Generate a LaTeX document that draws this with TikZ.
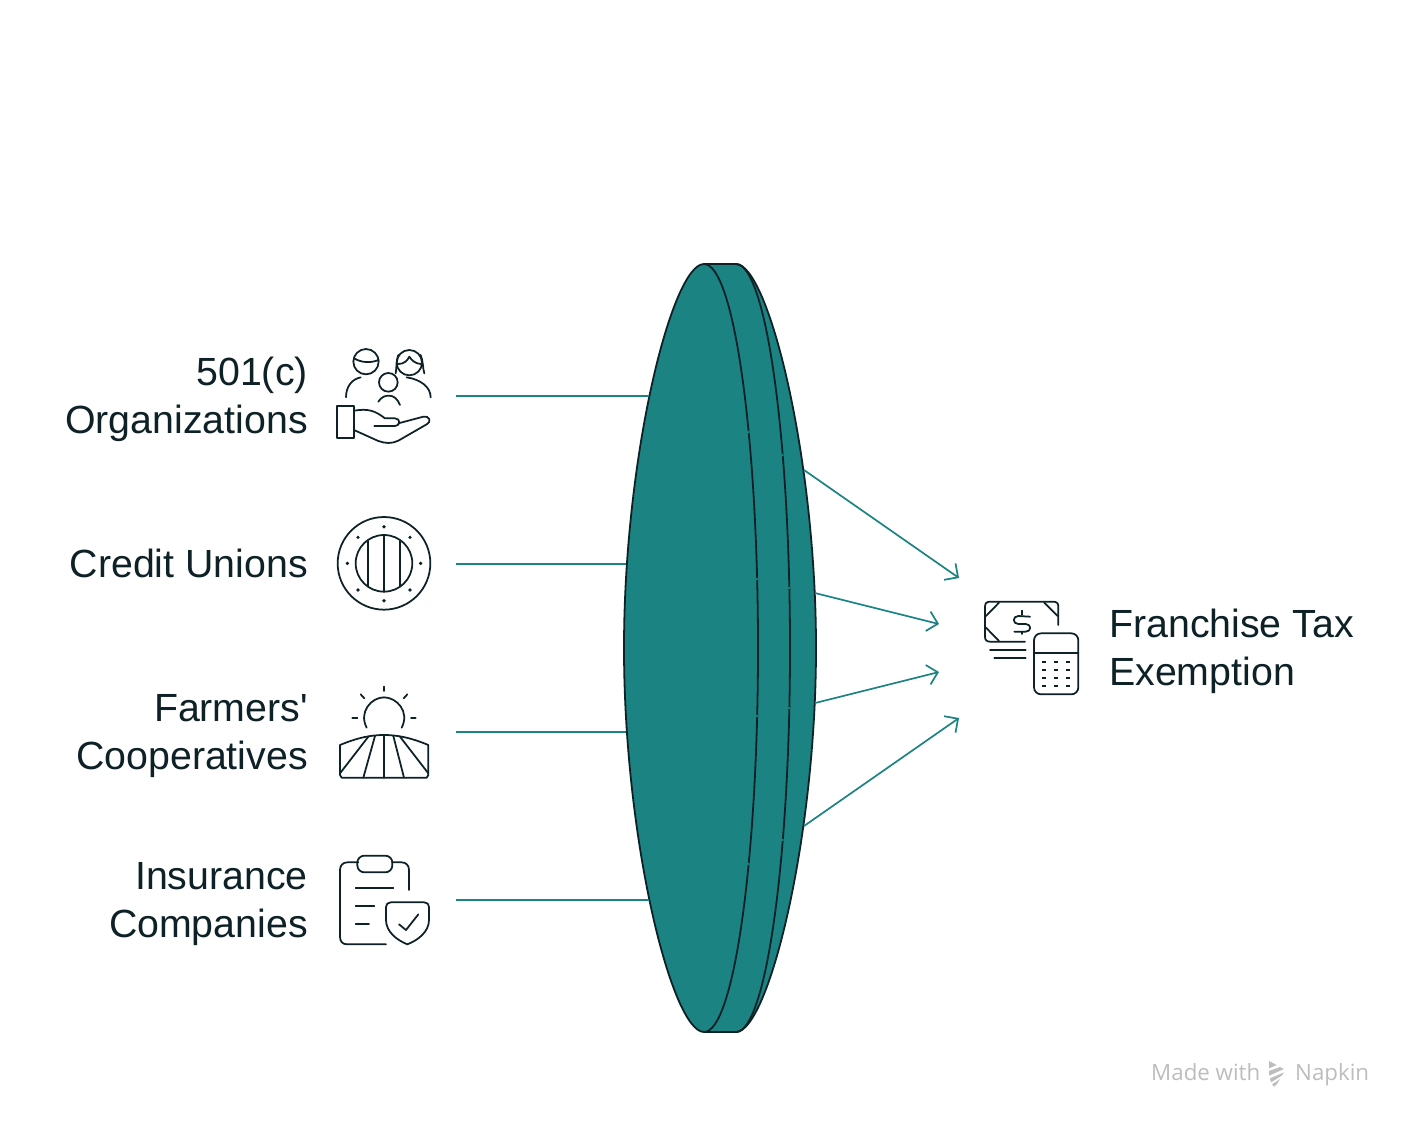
\documentclass[tikz,border=0pt]{standalone}
\usepackage{fontspec}
\setmainfont{Liberation Sans}
\newfontfamily\labelfont{Liberation Sans}
\newfontfamily\wmfont{Open Sans}
\usetikzlibrary{arrows.meta}
\definecolor{tealfill}{HTML}{1C8383}
\definecolor{ink}{HTML}{0D2126}
\definecolor{wmgrey}{HTML}{BDBDBD}
\tikzset{
  label/.style={font=\labelfont\fontsize{39.3}{48}\selectfont,text=ink,inner sep=0pt,align=right,anchor=east},
  iconslot/.style={minimum width=144pt,minimum height=92pt,inner sep=0pt},
  link/.style={draw=tealfill,line width=1.7pt},
  arrowlink/.style={link,-{Straight Barb[length=10pt,width=20pt,line width=1.7pt]}},
  lens/.style={draw=ink,line width=1.8pt,fill=tealfill},
  edge/.style={draw=ink,line width=1.8pt},
  ic/.style={draw=ink,line width=1.75pt,line cap=round,line join=round},
  crop/.style={shift={#1},x=0.33333pt,y=-0.33333pt},
  wm/.style={font=\wmfont\fontsize{22.3}{26}\selectfont,text=wmgrey,inner sep=0pt,anchor=base west},
}
\begin{document}
\begin{tikzpicture}[x=1pt,y=-1pt]
\useasboundingbox (0,0) rectangle (1416,1128);
\fill[white] (0,0) rectangle (1416,1128);
% lens
\path[lens] (704,264) -- (736,264)
  .. controls (768,264) and (816,456) .. (816,648)
  .. controls (816,840) and (768,1032) .. (736,1032)
  -- (704,1032)
  .. controls (672,1032) and (624,840) .. (624,648)
  .. controls (624,456) and (672,264) .. (704,264) -- cycle;
\path[edge] (704,264) .. controls (733.8,264) and (758,435.9) .. (758,648)
  .. controls (758,860.1) and (733.8,1032) .. (704,1032);
\path[edge] (736,264) .. controls (765.8,264) and (790,435.9) .. (790,648)
  .. controls (790,860.1) and (765.8,1032) .. (736,1032);
% small seams
\foreach \p in {(748.5,432),(757,579),(757,716),(748.5,864),(782.5,455),(789,588),(789,708),(782.5,840)}
  \fill[tealfill] \p circle (1.3);
% coordinates
\coordinate (lensA) at (649,396);
\coordinate (lensB) at (626,564);
\coordinate (lensC) at (626,732);
\coordinate (lensD) at (649,900);
\coordinate (outA) at (804,470);
\coordinate (outB) at (815,593);
\coordinate (outC) at (815,703);
\coordinate (outD) at (804,826);
\coordinate (tipA) at (959,578);
\coordinate (tipB) at (939,624);
\coordinate (tipC) at (939,672);
\coordinate (tipD) at (959,718);
\node[iconslot] (slotA) at (384,396) {};
\node[iconslot] (slotB) at (384,564) {};
\node[iconslot] (slotC) at (384,732) {};
\node[iconslot] (slotD) at (384,900) {};
\draw[link] (slotA.east) -- (lensA);
\draw[link] (slotB.east) -- (lensB);
\draw[link] (slotC.east) -- (lensC);
\draw[link] (slotD.east) -- (lensD);
\draw[arrowlink] (outA) -- (tipA);
\draw[arrowlink] (outB) -- (tipB);
\draw[arrowlink] (outC) -- (tipC);
\draw[arrowlink] (outD) -- (tipD);
% labels
\node[label] (labA) at (308,399) {501(c)\\Organizations};
\node[label] (labB) at (308,563) {Credit Unions};
\node[label] (labC) at (308,736) {Farmers'\\Cooperatives};
\node[label] (labD) at (308,904) {Insurance\\Companies};
\node[label,align=left,anchor=west] (labE) at (1109,651) {Franchise Tax\\Exemption};
% icon 1
\begin{scope}[crop={(330,340)}]
\draw[ic] (108,65) circle (38);
\draw[ic] (72,55) .. controls (95,68) and (120,70) .. (146,60);
\draw[ic] (238,68) circle (38);
\draw[ic] (205,72) .. controls (222,72) and (232,62) .. (238,50) .. controls (245,62) and (258,72) .. (274,72);
\draw[ic] (205,45) .. controls (198,65) and (200,85) .. (197,100);
\draw[ic] (272,45) .. controls (280,65) and (278,85) .. (283,100);
\draw[ic] (48,172) .. controls (48,140) and (65,118) .. (92,112);
\draw[ic] (302,172) .. controls (302,140) and (270,118) .. (230,112);
\draw[ic] (175,127) circle (28);
\draw[ic] (145,185) .. controls (155,170) and (165,167) .. (178,167) .. controls (192,167) and (203,178) .. (210,195);
\draw[ic] (22,197) rectangle (72,293);
\draw[ic] (72,212) .. controls (115,205) and (135,212) .. (165,235) -- (195,235) .. controls (212,235) and (212,258) .. (195,258) -- (133,258);
\draw[ic] (205,250) -- (280,230) .. controls (298,226) and (306,245) .. (290,253) -- (205,302) .. controls (185,312) and (165,310) .. (145,303) -- (72,270);
\end{scope}
% icon 2
\begin{scope}[crop={(330,510)}]
\draw[ic] (162,160) circle (139);
\draw[ic] (162,160) circle (85);
\draw[ic] (162,77) -- (162,245);
\draw[ic] (114,92) -- (114,228);
\draw[ic] (211,92) -- (211,228);
\foreach \p in {(162,50),(272,160),(162,272),(52,160),(84,82),(240,82),(84,240),(240,240)}
  \fill[ink] \p circle (5.5);
\end{scope}
% icon 3
\begin{scope}[crop={(330,680)}]
\draw[ic] (110,143) .. controls (85,95) and (125,52) .. (162,52) .. controls (200,52) and (240,95) .. (215,143);
\draw[ic] (162,20) -- (162,33);
\draw[ic] (92,43) -- (103,55);
\draw[ic] (232,43) -- (221,55);
\draw[ic] (67,113) -- (82,113);
\draw[ic] (243,113) -- (257,113);
\draw[ic] (30,195) .. controls (85,172) and (125,165) .. (162,165) .. controls (200,165) and (240,172) .. (295,195) -- (295,285) -- (290,293) -- (35,293) -- (30,285) -- cycle;
\draw[ic] (162,165) -- (162,293);
\draw[ic] (135,168) -- (100,293);
\draw[ic] (190,168) -- (222,293);
\draw[ic] (115,170) -- (30,280);
\draw[ic] (210,170) -- (295,280);
\end{scope}
% icon 4
\begin{scope}[crop={(330,845)}]
\draw[ic] (85,52) -- (52,52) .. controls (38,52) and (30,62) .. (30,75) -- (30,275) .. controls (30,290) and (38,298) .. (52,298) -- (168,298);
\draw[ic] (187,52) -- (215,52) .. controls (229,52) and (237,62) .. (237,75) -- (237,135);
\draw[ic,rounded corners=7pt] (82,32) rectangle (187,82);
\draw[ic] (77,130) -- (190,130);
\draw[ic] (77,184) -- (133,184);
\draw[ic] (77,238) -- (117,238);
\draw[ic] (182,172) -- (283,172) .. controls (292,172) and (297,178) .. (297,186) -- (297,225) .. controls (297,260) and (265,285) .. (232,298) .. controls (200,285) and (168,260) .. (168,225) -- (168,186) .. controls (168,178) and (173,172) .. (182,172) -- cycle;
\draw[ic] (207,238) -- (228,255) -- (265,208);
\end{scope}
% icon 5
\begin{scope}[crop={(975,590)}]
\draw[ic] (250,105) -- (250,50) .. controls (250,40) and (245,35) .. (235,35) -- (45,35) .. controls (35,35) and (30,40) .. (30,50) -- (30,140) .. controls (30,150) and (35,155) .. (45,155) -- (150,155);
\draw[ic] (72,38) -- (33,78);
\draw[ic] (208,38) -- (248,78);
\draw[ic] (33,113) -- (72,153);
\draw[ic] (165,80) -- (130,78) .. controls (112,78) and (112,102) .. (130,102) -- (152,102) .. controls (170,102) and (170,125) .. (152,125) -- (118,125);
\draw[ic] (140,62) -- (140,75);
\draw[ic] (140,125) -- (140,132);
\draw[ic] (45,180) -- (152,180);
\draw[ic] (58,203) -- (152,203);
\draw[ic,rounded corners=7pt] (177,130) rectangle (310,313);
\draw[ic] (177,190) -- (310,190);
\foreach \y in {215,240,263,287}
  \foreach \x in {208,243,278}
    \draw[ic,line cap=butt] (\x-6,\y) -- (\x+6,\y);
\end{scope}
% watermark
\node[wm] (wmA) at (1151,1080) {Made with};
\node[wm] (wmB) at (1295,1080) {Napkin};
\begin{scope}[crop={(1260,1055)}]
\fill[wmgrey] (27,18) -- (50,30) -- (27,40) -- cycle;
\fill[wmgrey] (27,48) -- (60,36) -- (72,42) -- (27,62) -- cycle;
\fill[wmgrey] (30,70) -- (72,52) -- (65,62) -- (33,82) -- cycle;
\fill[wmgrey] (36,88) -- (60,72) -- (50,88) -- (42,95) -- cycle;
\end{scope}
\end{tikzpicture}
\end{document}
